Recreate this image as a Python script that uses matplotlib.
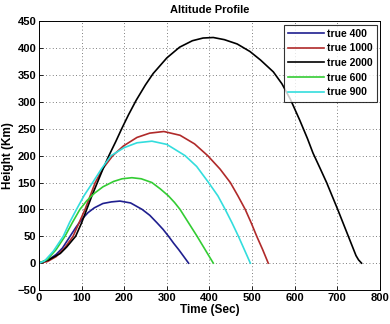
import matplotlib
matplotlib.use("Agg")
import matplotlib.pyplot as plt

# ---- data ----
t_400 = [0, 20, 40, 55, 73, 87, 100, 115, 130, 150, 170, 190, 215, 242, 260, 277, 291, 304, 316, 328, 340, 351]
h_400 = [0, 5, 16, 28, 50, 67, 81, 94, 103, 111, 114, 115.5, 112, 100, 89, 75, 63, 50, 37, 25, 12, 0]

t_1000 = [0, 20, 40, 60, 80, 94, 108, 120, 132, 150, 173, 198, 230, 260, 293, 331, 365, 396, 425, 449, 467, 484, 498, 511, 525, 538]
h_1000 = [0, 3, 12, 28, 50, 75, 100, 125, 150, 176, 200, 218, 234, 242, 245, 238, 222, 200, 175, 150, 125, 100, 75, 50, 25, 0]

t_2000 = [0, 23, 50, 65, 86, 100, 112, 124, 137, 150, 164, 180, 194, 210, 228, 250, 268, 300, 330, 360, 385, 409, 435, 465, 495, 520, 550, 570, 590, 612, 630, 643, 660, 675, 688, 700, 713, 726, 735, 744, 750, 757]
h_2000 = [0, 6, 18, 30, 50, 75, 100, 125, 150, 175, 200, 226, 250, 276, 303, 332, 353, 382, 402, 414, 419, 420, 416, 408, 394, 378, 356, 334, 305, 266, 232, 205, 176, 150, 125, 102, 76, 50, 32, 14, 6, 0]

t_600 = [0, 20, 40, 61, 78, 96, 112, 130, 150, 175, 195, 218, 240, 265, 285, 304, 318, 331, 351, 371, 390, 409]
h_600 = [0, 7, 25, 50, 75, 100, 116, 130, 142, 152, 157, 159, 157, 150, 138, 125, 113, 100, 75, 50, 25, 0]

t_900 = [0, 13, 33.5, 57, 72, 88, 106, 126, 147, 169, 200, 230, 265, 300, 343, 370, 398, 420, 437, 453, 468, 482, 496]
h_900 = [0, 4, 22, 50, 76, 100, 126, 150, 176, 200, 215, 224, 227, 221, 200, 180, 150, 125, 100, 75, 50, 25, 0]

series = [
    ("true 400", t_400, h_400, "#1f1f8f"),
    ("true 1000", t_1000, h_1000, "#b02a2a"),
    ("true 2000", t_2000, h_2000, "#000000"),
    ("true 600", t_600, h_600, "#33cc33"),
    ("true 900", t_900, h_900, "#33dddd"),
]

x_ticks = [0, 100, 200, 300, 400, 500, 600, 700, 800]
y_ticks = [-50, 0, 50, 100, 150, 200, 250, 300, 350, 400, 450]

plt.rcParams['font.family'] = ['Liberation Sans Narrow', 'Liberation Sans', 'DejaVu Sans']
plt.rcParams['font.weight'] = 'bold'

fig = plt.figure(figsize=(3.9, 3.24), dpi=100)
ax = fig.add_axes([0.1, 0.105, 0.874, 0.829])

for name, t, h, c in series:
    ax.plot(t, h, color=c, lw=1.2, label=name, solid_joinstyle='round')

ax.set_xlim(0, 800)
ax.set_ylim(-50, 450)
ax.set_xticks(x_ticks)
ax.set_yticks(y_ticks)
ax.tick_params(direction='in', length=3, labelsize=8, pad=2, width=0.6)
for lab in ax.get_xticklabels() + ax.get_yticklabels():
    lab.set_fontweight('bold')
ax.grid(True, linestyle=(0, (1, 3)), color='#555555', lw=0.6)
for s in ax.spines.values():
    s.set_linewidth(0.7)

ax.set_title("Altitude Profile", fontsize=8, fontweight='bold', pad=6)
ax.set_xlabel("Time (Sec)", fontsize=8.5, fontweight='bold', labelpad=1)
ax.set_ylabel("Height (Km)", fontsize=8.5, fontweight='bold', labelpad=2)

leg = ax.legend(loc='upper right', fontsize=7.5, frameon=True, fancybox=False,
                edgecolor='black', handlelength=3.4, handletextpad=0.3,
                borderaxespad=0.3, labelspacing=0.45, borderpad=0.4)
leg.get_frame().set_linewidth(0.8)
for txt in leg.get_texts():
    txt.set_fontweight('bold')

fig.savefig("out.png", dpi=100)
